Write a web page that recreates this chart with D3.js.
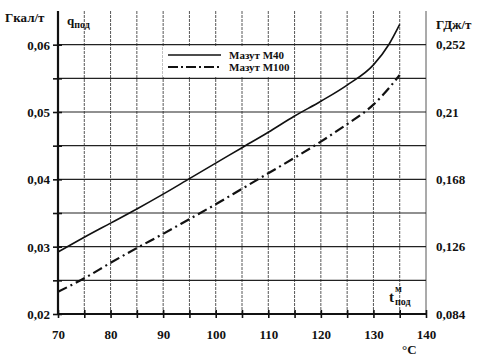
<!DOCTYPE html>
<html>
<head>
<meta charset="utf-8">
<script src="https://cdnjs.cloudflare.com/ajax/libs/d3/7.8.5/d3.min.js"></script>
<style>
  body { margin: 0; background: #fff; }
</style>
</head>
<body>
<div id="chart"></div>
<script>
const width = 480
const height = 358
const serif = '"Liberation Serif", "Times New Roman", "DejaVu Serif", serif';

// temperatures, °C
const tempM40 = [70, 75, 80, 85, 90, 95, 100, 105, 110, 115, 120, 125, 130, 133, 135];
const valM40 = [0.0292, 0.0314, 0.0335, 0.0356, 0.0378, 0.0401, 0.0424, 0.0447, 0.0470, 0.0494, 0.0516, 0.0540, 0.0570, 0.0601, 0.0630];
const tempM100 = [70, 75, 80, 85, 90, 95, 100, 105, 110, 115, 120, 125, 128, 130, 132, 135];
const valM100 = [0.0233, 0.0253, 0.0276, 0.0298, 0.0319, 0.0341, 0.0363, 0.0386, 0.0409, 0.0432, 0.0456, 0.0482, 0.0498, 0.0511, 0.0527, 0.0555];

const seriesNames = ['Мазут М40', 'Мазут М100'];
const xTicks = [70, 80, 90, 100, 110, 120, 130, 140];
const xMinor = [70, 75, 80, 85, 90, 95, 100, 105, 110, 115, 120, 125, 130, 135, 140];
const yTicks = [0.02, 0.03, 0.04, 0.05, 0.06];
const yGrid = [0.025, 0.03, 0.035, 0.04, 0.045, 0.05, 0.055, 0.06];
const yRightTicks = [0.084, 0.126, 0.168, 0.21, 0.252];

const plot = {left: 58, right: 426, top: 11, bottom: 314};

const svg = d3.select('#chart').append('svg').attr('width', width).attr('height', height);

const x = d3.scaleLinear().domain([70, 140]).range([plot.left, plot.right]);
const y = d3.scaleLinear().domain([0.02, 0.065]).range([plot.bottom, plot.top]);
const yR = d3.scaleLinear().domain([0.02 * 4.2, 0.065 * 4.2]).range([plot.bottom, plot.top]);

const comma = d => String(d).replace('.', ',');

function label(sel, size) {
  return sel.style('font-family', serif).style('font-weight', 'bold').style('font-size', size + 'px').attr('fill', '#111');
}

// vertical grid
svg.append('g')
  .selectAll('line')
  .data(xMinor.slice(1))
  .enter().append('line')
  .attr('x1', d => x(d)).attr('x2', d => x(d))
  .attr('y1', plot.top).attr('y2', plot.bottom)
  .attr('stroke', '#444')
  .attr('stroke-width', 0.9)
  .attr('stroke-dasharray', d => d === 140 ? null : '3,1');

// horizontal grid
svg.append('g')
  .selectAll('line')
  .data(yGrid)
  .enter().append('line')
  .attr('x1', plot.left).attr('x2', plot.right)
  .attr('y1', d => y(d)).attr('y2', d => y(d))
  .attr('stroke', '#222')
  .attr('stroke-width', 1.2);

// legend box (covers grid)
const legend = svg.append('g').attr('transform', 'translate(163,46)');
legend.append('rect').attr('width', 130).attr('height', 31).attr('fill', '#fff');
const legendDash = [null, '10,3,2,3'];
seriesNames.forEach((name, i) => {
  legend.append('line')
    .attr('x1', 5).attr('x2', 58)
    .attr('y1', 9 + i * 12).attr('y2', 9 + i * 12)
    .attr('stroke', '#111')
    .attr('stroke-width', i === 0 ? 1.3 : 1.8)
    .attr('stroke-dasharray', legendDash[i]);
  label(legend.append('text'), 11)
    .attr('x', 66).attr('y', 13 + i * 12)
    .text(name);
});

// curves
const lineGen = d3.line().x(d => x(d[0])).y(d => y(d[1])).curve(d3.curveMonotoneX);
svg.append('path')
  .datum(d3.zip(tempM40, valM40))
  .attr('d', lineGen)
  .attr('fill', 'none')
  .attr('stroke', '#111')
  .attr('stroke-width', 1.6);
svg.append('path')
  .datum(d3.zip(tempM100, valM100))
  .attr('d', lineGen)
  .attr('fill', 'none')
  .attr('stroke', '#111')
  .attr('stroke-width', 2.2)
  .attr('stroke-dasharray', '10,4,2,4');

// left axis
const leftAxis = svg.append('g')
  .attr('transform', 'translate(' + plot.left + ',0)')
  .call(d3.axisLeft(y).tickValues(yGrid.concat([0.02])).tickSize(5).tickFormat(d => yTicks.some(t => Math.abs(t - d) < 1e-9) ? comma(d3.format('.2f')(d)) : ''));
leftAxis.select('.domain').attr('stroke', '#111').attr('stroke-width', 2.2).attr('d', 'M0,' + plot.top + 'V' + plot.bottom);
leftAxis.selectAll('.tick line').attr('stroke', '#111').attr('stroke-width', 1.6).attr('x1', 4);
label(leftAxis.selectAll('.tick text'), 13).attr('x', -8).attr('dy', '0.35em');

// right axis labels
label(svg.append('g')
  .attr('transform', 'translate(' + plot.right + ',0)')
  .selectAll('text')
  .data(yRightTicks)
  .enter().append('text'), 13)
  .attr('x', 10)
  .attr('y', d => yR(d))
  .attr('dy', '0.35em')
  .text(d => comma(d));

// bottom axis
const bottomAxis = svg.append('g')
  .attr('transform', 'translate(0,' + plot.bottom + ')')
  .call(d3.axisBottom(x).tickValues(xMinor).tickSize(4).tickFormat(d => xTicks.includes(d) ? d : ''));
bottomAxis.select('.domain').attr('stroke', '#111').attr('stroke-width', 2.2).attr('d', 'M' + plot.left + ',0H' + plot.right);
bottomAxis.selectAll('.tick line').attr('stroke', '#111').attr('stroke-width', 1.6).attr('y1', -4);
label(bottomAxis.selectAll('.tick text'), 13).attr('y', 16);

// axis titles
label(svg.append('text'), 13).attr('x', 5).attr('y', 22).text('Гкал/т');
label(svg.append('text'), 13).attr('x', 436).attr('y', 29).text('ГДж/т');

const q = label(svg.append('text'), 13).attr('x', 67).attr('y', 25);
q.append('tspan').text('q');
q.append('tspan').attr('dy', 3).style('font-size', '10px').text('под');

label(svg.append('text'), 15).attr('x', 389).attr('y', 302).text('t');
label(svg.append('text'), 10).attr('x', 395).attr('y', 292).text('м');
label(svg.append('text'), 10).attr('x', 395).attr('y', 305).text('под');

label(svg.append('text'), 13).attr('x', 402).attr('y', 354).text('°C');
</script>
</body>
</html>
